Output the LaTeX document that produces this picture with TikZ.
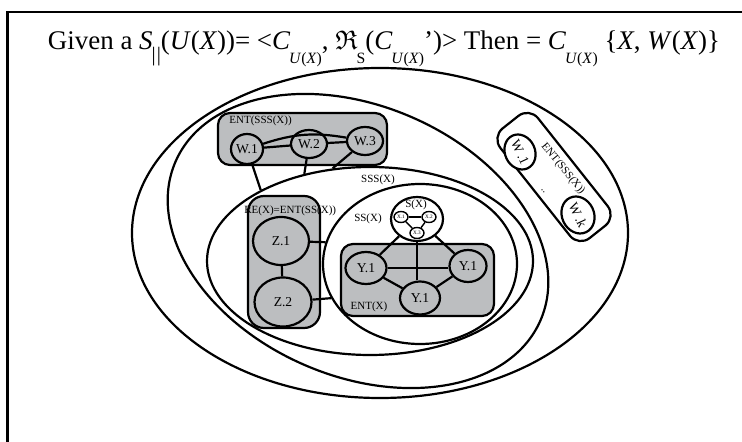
\documentclass[tikz,border=0pt]{standalone}
\usepackage{amssymb}
\usepackage{fontspec}
\setmainfont{Liberation Serif}
\usetikzlibrary{shapes.geometric}
\definecolor{boxgray}{RGB}{188,190,192}
\newcommand{\lsub}[1]{\kern-0.6pt\raisebox{-7pt}{\fontsize{8.4}{9}\selectfont #1}}
\begin{document}
\begin{tikzpicture}[x=0.5pt,y=-0.5pt,
 ring/.style={draw, ellipse, line width=1.1pt, inner sep=0pt},
 gbox/.style={draw, fill=boxgray, rounded corners=6pt, line width=1.1pt, inner sep=0pt},
 wbox/.style={draw, fill=white, rounded corners=7pt, line width=1.1pt, inner sep=0pt},
 gnode/.style={draw, ellipse, fill=boxgray, line width=1.1pt, inner sep=0pt, font=\fontsize{6.8}{8}\selectfont},
 wnode/.style={gnode, fill=white},
 xnode/.style={draw, ellipse, fill=white, line width=0.7pt, inner sep=0pt, minimum width=7pt, minimum height=5.5pt, font=\fontsize{2.6}{3}\selectfont},
 lbl/.style={inner sep=0pt, font=\fontsize{5.5}{6}\selectfont},
 edge/.style={line width=1.1pt},
 thinedge/.style={line width=0.7pt}]
\useasboundingbox (0,0) rectangle (742,442);
\draw[line width=1.1pt] (7.5,442) |- (742,12);
\node[anchor=base, inner sep=0pt] (title) at (384,50) {\resizebox{336pt}{!}{\fontsize{14.4}{16}\selectfont Given a \textit{S}\kern-0.6pt\raisebox{-6pt}{\fontsize{11}{12}\selectfont |\kern0.6pt|}(\textit{U}(\textit{X}))= <\textit{C}\lsub{\textit{U}(\textit{X})}, $\mathfrak{R}$\lsub{S}(\textit{C}\lsub{\textit{U}(\textit{X})}')> Then = \textit{C}\lsub{\textit{U}(\textit{X})} \{\textit{X}, \textit{W}(\textit{X})\}}};
% containing ellipses
\node[ring, minimum width=248pt, minimum height=165pt] (uni) at (380,233) {};
\node[ring, minimum width=199pt, minimum height=135pt, rotate=-23.5] (wx) at (358,241) {};
\node[ring, minimum width=163pt, minimum height=94pt] (sss) at (370,261) {};
\node[ring, minimum width=97pt, minimum height=80pt] (ss) at (420,264) {};
% boxes
\node[gbox, minimum width=84.5pt, minimum height=26pt] (wbx) at (302.5,139) {};
\node[gbox, rounded corners=8pt, minimum width=36pt, minimum height=66pt] (rebx) at (284,262) {};
\node[gbox, minimum width=76.5pt, minimum height=36pt] (ybx) at (417.5,280) {};
\node[wbox, minimum width=70pt, minimum height=24pt, rotate=-51.6] (wkbx) at (554,177) {};
% labels
\node[lbl, anchor=west] (entsss) at (229,121) {ENT(SSS(X))};
\node[lbl] (ssslbl) at (378,180) {SSS(X)};
\node[lbl] (sslbl) at (368,219) {SS(X)};
\node[lbl] (entx) at (369,307) {ENT(X)};
\node[lbl, rotate=-50.6] (entwk) at (563,169) {ENT(SSS(X))};
\node[lbl, rotate=-50.6] (dots) at (543,191) {..};
% W nodes
\node[gnode, minimum width=16pt, minimum height=15pt] (w1) at (247,149) {W.1};
\node[gnode, minimum width=18pt, minimum height=14pt] (w2) at (309,144) {W.2};
\node[gnode, minimum width=18pt, minimum height=14pt] (w3) at (365,141) {W.3};
\node[wnode, rotate=-65, minimum width=18pt, minimum height=15pt] (wk1) at (520,152) {W\,.1};
\node[wnode, rotate=-65, minimum width=19pt, minimum height=16pt] (wkk) at (578,215) {W\,.k};
% Z nodes
\node[gnode, minimum width=28pt, minimum height=24pt] (z1) at (281,241) {Z.1};
\node[gnode, minimum width=28.5pt, minimum height=24.5pt] (z2) at (283,302) {Z.2};
\node[lbl, anchor=west] (relbl) at (244,211) {RE(X)=ENT(SS(X))};
% Y nodes
\node[gnode, minimum width=20.5pt, minimum height=16pt] (yl) at (366,268) {Y.1};
\node[gnode, minimum width=18.5pt, minimum height=16pt] (yr) at (468,266) {Y.1};
\node[gnode, minimum width=20pt, minimum height=16.5pt] (yb) at (420,298) {Y.1};
% S(X)
\node[draw, ellipse, fill=white, line width=1.1pt, inner sep=0pt, minimum width=26pt, minimum height=22pt] (sx) at (417,219) {};
\node[lbl] (sxlbl) at (416,205) {S(X)};
\node[xnode] (x1) at (401,217) {X.1};
\node[xnode] (x2) at (429,217) {X.2};
\node[xnode] (x3) at (417,233) {X.3};
% edges
\draw[edge] (w1) -- (w2);
\draw[edge] (w2) -- (w3);
\draw[edge] (w1) to[bend left=14] (w3);
\draw[edge] (w1) -- (sss.147);
\draw[edge] (w2) -- (sss.127);
\draw[edge] (w3) -- (sss.112);
\draw[edge] (z1) -- (z2);
\draw[edge] (z1) -- (ss.167);
\draw[edge] (z2) -- (ss.201);
\draw[edge] (yl.east) -- (yr.west |- yl.east);
\draw[edge] (yl) -- (yb);
\draw[edge] (yr) -- (yb);
\draw[edge] (sx) -- (yl);
\draw[edge] (sx) -- (yr);
\draw[edge] (sx.south) -- (sx.south |- yb.north);
\draw[thinedge] (x1) -- (x2);
\draw[thinedge] (x1) -- (x3);
\draw[thinedge] (x2) -- (x3);
\end{tikzpicture}
\end{document}
